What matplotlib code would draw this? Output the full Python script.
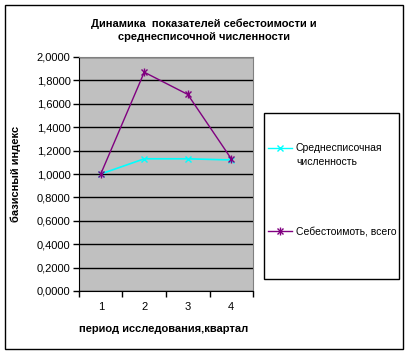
import matplotlib
matplotlib.use("Agg")
import matplotlib.pyplot as plt
from matplotlib.patches import Rectangle
from matplotlib.lines import Line2D
from matplotlib.ticker import FuncFormatter, FixedLocator

plt.rcParams['font.family'] = ['Liberation Sans', 'DejaVu Sans']

quarters = ["1", "2", "3", "4"]
staff = [1.0, 1.13, 1.13, 1.12]
cost = [1.0, 1.87, 1.68, 1.13]
title = "Динамика  показателей себестоимости и\nсреднесписочной численности"
xlabel = "период исследования,квартал"
ylabel = "базисный индекс"
labels = ["Среднесписочная\nчисленность", "Себестоимоть, всего"]

W, H = 410, 355
fig = plt.figure(figsize=(W / 100, H / 100), dpi=100)
fig.patch.set_facecolor("white")

# outer chart frame
fig.add_artist(Rectangle((5 / W, 1 - 349 / H), (403 - 5) / W, (349 - 5) / H,
                         transform=fig.transFigure, fill=False, edgecolor="black", lw=1.0))

ax = fig.add_axes([79 / W, 1 - 291 / H, (253 - 79) / W, (291 - 57) / H])
ax.set_facecolor("#C0C0C0")
x = list(range(1, len(quarters) + 1))
ax.plot(x, staff, color="#00FFFF", lw=1.2, marker="x", ms=5, mew=1.0)
ax.plot(x, cost, color="#800080", lw=1.0, marker="x", ms=5, mew=1.0)
ax.plot(x, cost, color="#800080", lw=0, marker="|", ms=6, mew=1.0)

ax.set_xlim(0.5, len(quarters) + 0.5)
ax.set_ylim(0, 2.0)
yt = [i * 0.2 for i in range(11)]
ax.set_yticks(yt)
ax.yaxis.set_major_formatter(FuncFormatter(lambda v, p: f"{v:.4f}".replace(".", ",")))
ax.set_xticks(x)
ax.set_xticklabels(quarters)
ax.xaxis.set_minor_locator(FixedLocator([i + 0.5 for i in range(len(quarters) + 1)]))
ax.tick_params(axis="x", which="major", length=0, pad=8, labelsize=8)
ax.tick_params(axis="x", which="minor", length=4, width=1, direction="out", color="black")
ax.tick_params(axis="y", length=4, width=1, direction="out", labelsize=8, pad=2)
ax.grid(axis="y", color="black", lw=1.0)
ax.set_axisbelow(True)
for s in ["top", "right"]:
    ax.spines[s].set_color("#808080")
for s in ["left", "bottom"]:
    ax.spines[s].set_color("black")

fig.text(204 / W, 1 - 30 / H, title, ha="center", va="center", fontsize=8,
         fontweight="bold", linespacing=1.4)
fig.text(164 / W, 1 - 329 / H, xlabel, ha="center", va="center", fontsize=8, fontweight="bold")
fig.text(16 / W, 1 - 174 / H, ylabel, ha="center", va="center", fontsize=8,
         fontweight="bold", rotation=90)

# legend box
fig.add_artist(Rectangle((264 / W, 1 - 279 / H), (399 - 264) / W, (279 - 113) / H,
                         transform=fig.transFigure, fill=False, edgecolor="black", lw=1.0))
ys = [148, 231]
colors = ["#00FFFF", "#800080"]
for i, (lab, c) in enumerate(zip(labels, colors)):
    y = 1 - ys[i] / H
    fig.add_artist(Line2D([268 / W, 292 / W], [y, y], transform=fig.transFigure, color=c, lw=1.0))
    fig.add_artist(Line2D([280 / W], [y], transform=fig.transFigure, color=c, marker="x", ms=5, lw=0))
    if i == 1:
        fig.add_artist(Line2D([280 / W], [y], transform=fig.transFigure, color=c, marker="|", ms=6, lw=0))
    for j, line in enumerate(lab.split("\n")):
        fig.text(296 / W, 1 - (ys[i] + 14 * j) / H, line, ha="left", va="center", fontsize=7.5)

fig.savefig("out.png", dpi=100)
